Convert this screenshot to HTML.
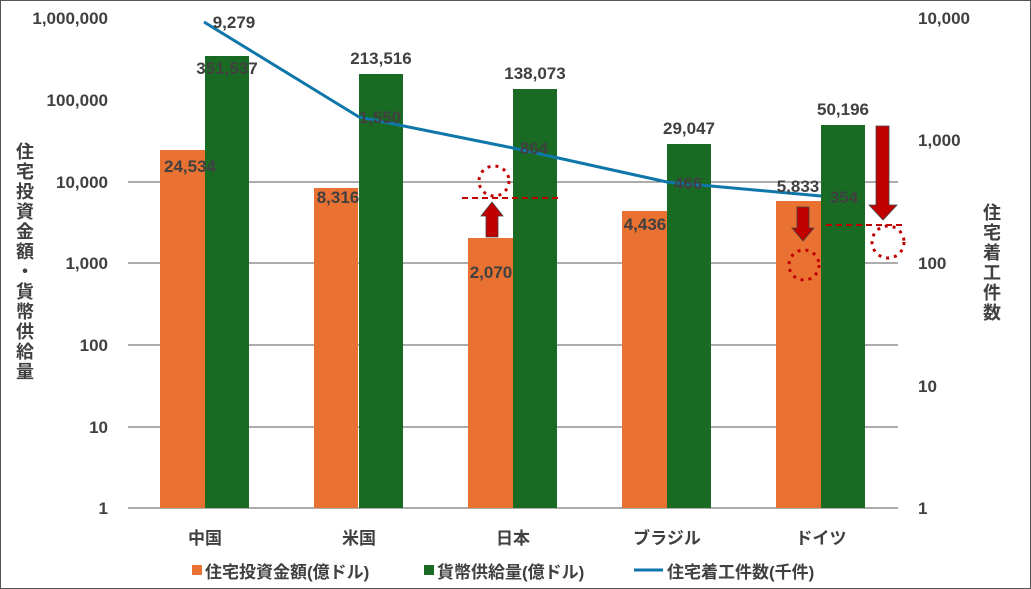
<!DOCTYPE html>
<html><head><meta charset="utf-8"><style>
body{margin:0;background:#fff}
svg{display:block}
text{font-family:"Liberation Sans","Noto Sans CJK JP",sans-serif;font-weight:bold;fill:#404040}
</style></head><body>
<svg width="1031" height="589" viewBox="0 0 1031 589">
<rect x="0.5" y="0.5" width="1030" height="588" fill="#fff" stroke="#555" stroke-width="1"/>
<g stroke="#595959" stroke-width="1">
<line x1="128" y1="182" x2="898" y2="182"/>
<line x1="128" y1="263" x2="898" y2="263"/>
<line x1="128" y1="345" x2="898" y2="345"/>
<line x1="128" y1="427" x2="898" y2="427"/>
<line x1="128" y1="508" x2="898" y2="508"/>
</g>
<g font-size="17" text-anchor="end">
<text x="108" y="24">1,000,000</text>
<text x="108" y="106">100,000</text>
<text x="108" y="188">10,000</text>
<text x="108" y="269">1,000</text>
<text x="108" y="351">100</text>
<text x="108" y="433">10</text>
<text x="108" y="514">1</text>
</g>
<g font-size="17" text-anchor="start">
<text x="918" y="24">10,000</text>
<text x="918" y="146">1,000</text>
<text x="918" y="269">100</text>
<text x="918" y="392">10</text>
<text x="918" y="514">1</text>
</g>
<g fill="#E97132">
<rect x="160" y="150" width="45" height="358"/>
<rect x="314" y="188" width="44" height="320"/>
<rect x="468" y="238" width="45" height="270"/>
<rect x="622" y="211" width="45" height="297"/>
<rect x="776" y="201" width="45" height="307"/>
</g>
<g fill="#196B24">
<rect x="205" y="56" width="44" height="452"/>
<rect x="359" y="74" width="44" height="434"/>
<rect x="513" y="89" width="44" height="419"/>
<rect x="667" y="144" width="44" height="364"/>
<rect x="821" y="125" width="44" height="383"/>
</g>
<polyline points="204,22 359,117 513,148 667,182 821,196" fill="none" stroke="#0E76A8" stroke-width="3"/>
<g font-size="17" text-anchor="middle">
<text x="190" y="172">24,534</text>
<text x="338" y="203">8,316</text>
<text x="491" y="278">2,070</text>
<text x="645" y="230">4,436</text>
<text x="798" y="192">5,833</text>
<text x="227" y="74">351,537</text>
<text x="381" y="64">213,516</text>
<text x="535" y="79">138,073</text>
<text x="689" y="134">29,047</text>
<text x="843" y="115">50,196</text>
<text x="234" y="28">9,279</text>
<text x="380" y="123">1,550</text>
<text x="534" y="154">864</text>
<text x="688" y="189">466</text>
<text x="844" y="203">354</text>
</g>
<g stroke="#C00000" fill="none">
<line x1="462" y1="198" x2="562" y2="198" stroke-width="2" stroke-dasharray="6,4"/>
<line x1="826" y1="225" x2="906" y2="225" stroke-width="2" stroke-dasharray="6,4"/>
<circle cx="494" cy="181" r="15" stroke-width="3" stroke-dasharray="3,5"/>
<circle cx="804" cy="265" r="15" stroke-width="3" stroke-dasharray="3,5"/>
<circle cx="888" cy="242" r="16" stroke-width="3" stroke-dasharray="3,5"/>
</g>
<g fill="#C00000" stroke="#444" stroke-width="0.8">
<polygon points="486,237 486,216 481,216 492,202 503,216 498,216 498,237"/>
<polygon points="797,207 809,207 809,228 814,228 803,241 792,228 797,228"/>
<polygon points="876,126 889,126 889,205 897,205 883,220 869,205 876,205"/>
</g>
<g font-size="17" text-anchor="middle">
<text x="205" y="544">中国</text>
<text x="359" y="544">米国</text>
<text x="513" y="544">日本</text>
<text x="667" y="544">ブラジル</text>
<text x="821" y="544">ドイツ</text>
</g>
<g font-size="18">
<text x="16" y="158">住</text><text x="16" y="178">宅</text><text x="16" y="198">投</text><text x="16" y="218">資</text><text x="16" y="238">金</text><text x="16" y="258">額</text><text x="16" y="278">・</text><text x="16" y="298">貨</text><text x="16" y="318">幣</text><text x="16" y="338">供</text><text x="16" y="358">給</text><text x="16" y="378">量</text>
<text x="983" y="219">住</text><text x="983" y="239">宅</text><text x="983" y="259">着</text><text x="983" y="279">工</text><text x="983" y="299">件</text><text x="983" y="319">数</text>
</g>
<rect x="192" y="565" width="10" height="10" fill="#E97132"/>
<text x="205" y="578" font-size="17">住宅投資金額(億ドル)</text>
<rect x="424" y="565" width="10" height="10" fill="#196B24"/>
<text x="437" y="578" font-size="17">貨幣供給量(億ドル)</text>
<line x1="634" y1="570" x2="663" y2="570" stroke="#0E76A8" stroke-width="3"/>
<text x="667" y="578" font-size="17">住宅着工件数(千件)</text>
</svg>
</body></html>
